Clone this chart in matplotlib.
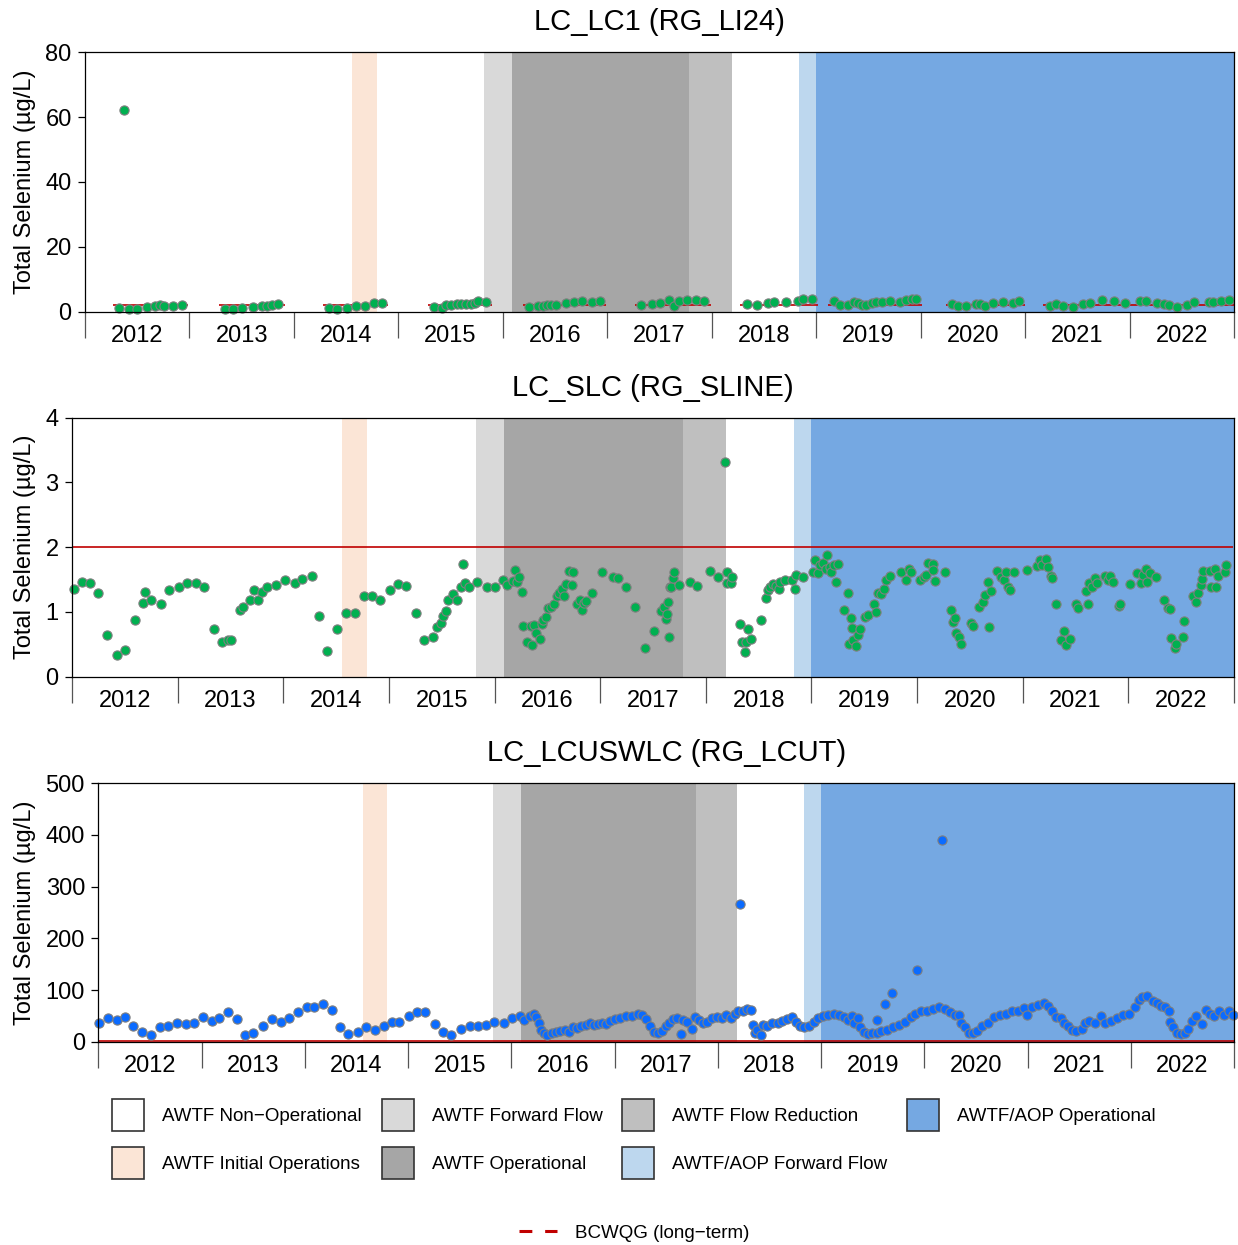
import numpy as np
import matplotlib
matplotlib.use("Agg")
import matplotlib.pyplot as plt
from matplotlib.patches import Patch
from matplotlib.lines import Line2D
from matplotlib.transforms import offset_copy

plt.rcParams['font.family'] = ['Liberation Sans', 'DejaVu Sans']

# ---------------- data ----------------
years = list(range(2012, 2023))
year_labels = [str(y) for y in years]

phase_labels = ["AWTF Non\u2212Operational", "AWTF Initial Operations",
                "AWTF Forward Flow", "AWTF Operational",
                "AWTF Flow Reduction", "AWTF/AOP Forward Flow",
                "AWTF/AOP Operational"]
phase_colors = ["#FFFFFF", "#FBE5D6", "#D9D9D9", "#A6A6A6",
                "#BFBFBF", "#BDD7EE", "#75A8E2"]
# shaded periods (decimal year start, end, phase index)
phase_start = [2014.56, 2015.82, 2016.09, 2017.785, 2018.833, 2019.0]
phase_end = [2014.795, 2016.09, 2017.785, 2018.19, 2019.0, 2023.0]
phase_index = [1, 2, 3, 4, 5, 6]

guideline = 2.0  # BCWQG long-term, ug/L

lc1_year = [2012.329, 2012.370, 2012.425, 2012.495, 2012.591, 2012.670, 2012.718, 2012.757, 2012.846, 2012.926,
            2013.341, 2013.421, 2013.501, 2013.612, 2013.692, 2013.740, 2013.788, 2013.852,
            2014.340, 2014.417, 2014.507, 2014.596, 2014.682, 2014.762, 2014.842,
            2015.341, 2015.417, 2015.454, 2015.504, 2015.560, 2015.598, 2015.647, 2015.692, 2015.731, 2015.761, 2015.837,
            2016.253, 2016.337, 2016.382, 2016.424, 2016.462, 2016.508, 2016.602, 2016.678, 2016.754, 2016.856, 2016.931,
            2017.326, 2017.428, 2017.504, 2017.587, 2017.637, 2017.686, 2017.762, 2017.853, 2017.929,
            2018.335, 2018.434, 2018.537, 2018.597, 2018.711, 2018.825, 2018.878, 2018.958,
            2019.175, 2019.231, 2019.306, 2019.364, 2019.401, 2019.440, 2019.477, 2019.534, 2019.573, 2019.629,
            2019.705, 2019.800, 2019.857, 2019.914, 2019.952,
            2020.305, 2020.358, 2020.434, 2020.533, 2020.571, 2020.616, 2020.692, 2020.786, 2020.881, 2020.939,
            2021.235, 2021.295, 2021.359, 2021.455, 2021.550, 2021.626, 2021.740, 2021.853, 2021.956,
            2022.096, 2022.153, 2022.267, 2022.332, 2022.380, 2022.456, 2022.552, 2022.620, 2022.761, 2022.798,
            2022.874, 2022.950]
lc1_se = [1.03, 62.2, 0.72, 0.72, 1.34, 1.85, 2.06, 1.85, 1.64, 2.16,
          0.72, 0.92, 1.13, 1.54, 1.75, 1.85, 1.95, 2.26,
          1.23, 0.92, 1.13, 1.75, 1.64, 2.57, 2.67,
          1.34, 1.13, 1.95, 2.16, 2.36, 2.36, 2.47, 2.36, 2.67, 3.19, 2.98,
          1.54, 1.75, 1.85, 2.06, 2.06, 2.06, 2.77, 2.98, 3.29, 2.88, 3.29,
          2.06, 2.36, 2.57, 3.60, 1.75, 3.29, 3.49, 3.60, 3.29,
          2.36, 1.95, 2.77, 2.98, 3.08, 3.39, 4.01, 3.80,
          3.29, 2.06, 2.06, 2.88, 2.57, 1.95, 2.06, 2.57, 2.88, 2.98,
          3.29, 3.08, 3.60, 3.80, 3.80,
          2.36, 1.85, 1.85, 2.26, 2.36, 1.75, 2.77, 3.08, 2.77, 3.29,
          1.85, 2.36, 1.75, 1.54, 2.36, 2.77, 3.49, 3.19, 2.57,
          3.19, 3.19, 2.57, 2.36, 1.95, 1.54, 1.95, 2.98, 2.98, 2.98,
          3.19, 3.49]

slc_year = [2012.019, 2012.091, 2012.170, 2012.249, 2012.328, 2012.423, 2012.502, 2012.596, 2012.669, 2012.694,
            2012.748, 2012.842, 2012.921, 2013.016, 2013.091, 2013.170, 2013.246, 2013.344, 2013.416, 2013.479,
            2013.502, 2013.590, 2013.615, 2013.685, 2013.722, 2013.763, 2013.795, 2013.842, 2013.931, 2014.016,
            2014.110, 2014.174, 2014.268, 2014.341, 2014.416, 2014.511, 2014.593, 2014.681, 2014.763, 2014.836,
            2014.915, 2015.009, 2015.088, 2015.161, 2015.255, 2015.334, 2015.413, 2015.451, 2015.489, 2015.508,
            2015.539, 2015.561, 2015.602, 2015.640, 2015.681, 2015.703, 2015.719, 2015.760, 2015.836, 2015.930,
            2016.006, 2016.076, 2016.120, 2016.171, 2016.192, 2016.214, 2016.233, 2016.256, 2016.271, 2016.303,
            2016.341, 2016.350, 2016.372, 2016.391, 2016.429, 2016.445, 2016.460, 2016.483, 2016.507, 2016.539,
            2016.561, 2016.587, 2016.609, 2016.634, 2016.656, 2016.675, 2016.706, 2016.731, 2016.738, 2016.776,
            2016.807, 2016.829, 2016.845, 2016.870, 2016.924, 2017.019, 2017.117, 2017.170, 2017.249, 2017.328,
            2017.429, 2017.508, 2017.580, 2017.602, 2017.627, 2017.633, 2017.643, 2017.652, 2017.659, 2017.675,
            2017.690, 2017.695, 2017.747, 2017.848, 2017.921, 2018.044, 2018.116, 2018.180, 2018.196, 2018.200,
            2018.236, 2018.252, 2018.322, 2018.347, 2018.369, 2018.385, 2018.404, 2018.423, 2018.520, 2018.574,
            2018.589, 2018.612, 2018.637, 2018.669, 2018.694, 2018.700, 2018.747, 2018.820, 2018.842, 2018.858,
            2018.921, 2019.015, 2019.031, 2019.063, 2019.085, 2019.110, 2019.142, 2019.148, 2019.173, 2019.189,
            2019.214, 2019.230, 2019.252, 2019.306, 2019.347, 2019.356, 2019.379, 2019.384, 2019.394, 2019.420,
            2019.442, 2019.461, 2019.511, 2019.536, 2019.590, 2019.609, 2019.631, 2019.663, 2019.685, 2019.701,
            2019.748, 2019.852, 2019.893, 2019.925, 2019.938, 2020.032, 2020.064, 2020.089, 2020.105, 2020.146,
            2020.152, 2020.168, 2020.263, 2020.320, 2020.341, 2020.357, 2020.373, 2020.398, 2020.417, 2020.506,
            2020.531, 2020.588, 2020.626, 2020.645, 2020.667, 2020.682, 2020.704, 2020.758, 2020.799, 2020.821,
            2020.840, 2020.862, 2020.878, 2020.916, 2021.045, 2021.136, 2021.162, 2021.187, 2021.225, 2021.240,
            2021.272, 2021.281, 2021.312, 2021.366, 2021.391, 2021.413, 2021.451, 2021.501, 2021.526, 2021.602,
            2021.618, 2021.627, 2021.659, 2021.681, 2021.703, 2021.776, 2021.807, 2021.830, 2021.855, 2021.912,
            2021.925, 2022.013, 2022.082, 2022.124, 2022.139, 2022.165, 2022.177, 2022.203, 2022.259, 2022.335,
            2022.376, 2022.392, 2022.408, 2022.439, 2022.455, 2022.518, 2022.525, 2022.613, 2022.638, 2022.660,
            2022.683, 2022.697, 2022.707, 2022.776, 2022.786, 2022.817, 2022.827, 2022.848, 2022.911, 2022.927]
slc_se = [1.36, 1.47, 1.45, 1.30, 0.65, 0.34, 0.42, 0.87, 1.14, 1.31,
          1.18, 1.13, 1.34, 1.39, 1.45, 1.45, 1.38, 0.74, 0.53, 0.56,
          0.56, 1.03, 1.07, 1.19, 1.34, 1.19, 1.31, 1.38, 1.41, 1.49,
          1.45, 1.51, 1.56, 0.94, 0.40, 0.73, 0.98, 0.98, 1.25, 1.24,
          1.19, 1.34, 1.43, 1.40, 0.98, 0.57, 0.62, 0.77, 0.83, 0.94,
          1.02, 1.18, 1.28, 1.19, 1.38, 1.74, 1.44, 1.39, 1.47, 1.39,
          1.38, 1.49, 1.42, 1.48, 1.65, 1.47, 1.54, 1.31, 0.78, 0.54,
          0.78, 0.49, 0.80, 0.67, 0.58, 0.81, 0.88, 0.92, 1.06, 1.08,
          1.12, 1.24, 1.30, 1.36, 1.25, 1.43, 1.64, 1.41, 1.61, 1.13,
          1.18, 1.03, 1.14, 1.17, 1.29, 1.62, 1.54, 1.52, 1.39, 1.07,
          0.45, 0.70, 1.02, 1.07, 0.89, 0.97, 1.16, 0.62, 1.39, 1.38,
          1.52, 1.62, 1.42, 1.46, 1.40, 1.64, 1.54, 3.31, 1.61, 1.45,
          1.44, 1.54, 0.81, 0.54, 0.38, 0.53, 0.74, 0.58, 0.88, 1.21,
          1.34, 1.39, 1.43, 1.40, 1.35, 1.47, 1.49, 1.50, 1.35, 1.57,
          1.54, 1.61, 1.80, 1.60, 1.73, 1.75, 1.67, 1.88, 1.70, 1.61,
          1.73, 1.46, 1.74, 1.03, 1.29, 0.50, 0.90, 0.75, 0.57, 0.48,
          0.64, 0.73, 0.92, 0.96, 1.13, 1.00, 1.30, 1.28, 1.36, 1.50,
          1.56, 1.61, 1.49, 1.66, 1.61, 1.49, 1.54, 1.57, 1.75, 1.74,
          1.65, 1.48, 1.62, 1.03, 0.85, 0.90, 0.68, 0.61, 0.50, 0.83,
          0.79, 1.07, 1.15, 1.26, 1.47, 0.77, 1.32, 1.63, 1.54, 1.50,
          1.62, 1.39, 1.34, 1.61, 1.65, 1.71, 1.81, 1.73, 1.82, 1.70,
          1.56, 1.52, 1.13, 0.57, 0.71, 0.49, 0.58, 1.12, 1.06, 1.33,
          1.13, 1.45, 1.38, 1.53, 1.45, 1.56, 1.50, 1.56, 1.47, 1.09,
          1.13, 1.43, 1.60, 1.44, 1.57, 1.66, 1.47, 1.60, 1.54, 1.19,
          1.06, 1.05, 0.60, 0.45, 0.50, 0.61, 0.86, 1.25, 1.16, 1.30,
          1.42, 1.51, 1.63, 1.64, 1.38, 1.66, 1.39, 1.56, 1.62, 1.73]

lcut_year = [2012.006, 2012.097, 2012.178, 2012.258, 2012.333, 2012.426, 2012.507, 2012.600, 2012.678, 2012.759,
             2012.849, 2012.927, 2013.017, 2013.098, 2013.172, 2013.256, 2013.346, 2013.421, 2013.501, 2013.598,
             2013.685, 2013.766, 2013.847, 2013.937, 2014.018, 2014.092, 2014.173, 2014.263, 2014.341, 2014.421,
             2014.512, 2014.592, 2014.680, 2014.767, 2014.841, 2014.915, 2015.012, 2015.088, 2015.165, 2015.261,
             2015.337, 2015.414, 2015.509, 2015.605, 2015.681, 2015.758, 2015.835, 2015.931, 2016.007, 2016.084,
             2016.122, 2016.180, 2016.218, 2016.237, 2016.264, 2016.287, 2016.314, 2016.350, 2016.390, 2016.430,
             2016.470, 2016.520, 2016.560, 2016.600, 2016.640, 2016.680, 2016.720, 2016.760, 2016.800, 2016.840,
             2016.880, 2016.920, 2016.960, 2017.000, 2017.052, 2017.111, 2017.168, 2017.225, 2017.264, 2017.303,
             2017.341, 2017.379, 2017.417, 2017.456, 2017.494, 2017.532, 2017.571, 2017.609, 2017.647, 2017.667,
             2017.705, 2017.755, 2017.782, 2017.820, 2017.859, 2017.898, 2017.943, 2017.992, 2018.042, 2018.081,
             2018.127, 2018.165, 2018.197, 2018.214, 2018.242, 2018.281, 2018.319, 2018.338, 2018.357, 2018.377,
             2018.415, 2018.442, 2018.480, 2018.530, 2018.580, 2018.626, 2018.672, 2018.722, 2018.760, 2018.799,
             2018.837, 2018.887, 2018.933, 2018.971, 2019.018, 2019.067, 2019.125, 2019.171, 2019.220, 2019.259,
             2019.298, 2019.317, 2019.355, 2019.374, 2019.413, 2019.451, 2019.490, 2019.539, 2019.547, 2019.585,
             2019.623, 2019.643, 2019.685, 2019.701, 2019.758, 2019.816, 2019.873, 2019.912, 2019.930, 2019.969,
             2020.026, 2020.084, 2020.141, 2020.169, 2020.199, 2020.245, 2020.295, 2020.333, 2020.360, 2020.399,
             2020.430, 2020.468, 2020.506, 2020.564, 2020.621, 2020.679, 2020.736, 2020.794, 2020.851, 2020.909,
             2020.966, 2020.997, 2021.043, 2021.101, 2021.158, 2021.197, 2021.235, 2021.273, 2021.320, 2021.358,
             2021.397, 2021.435, 2021.473, 2021.523, 2021.561, 2021.600, 2021.657, 2021.715, 2021.753, 2021.811,
             2021.868, 2021.926, 2021.984, 2022.041, 2022.079, 2022.110, 2022.156, 2022.214, 2022.252, 2022.290,
             2022.329, 2022.367, 2022.380, 2022.405, 2022.444, 2022.482, 2022.521, 2022.559, 2022.598, 2022.636,
             2022.686, 2022.724, 2022.770, 2022.809, 2022.854, 2022.904, 2022.954, 2022.990]
lcut_se = [36, 46, 42, 49, 30, 19, 14, 28, 31, 37,
           34, 37, 48, 41, 46, 57, 44, 14, 18, 31,
           44, 39, 47, 57, 67, 67, 73, 62, 28, 15,
           20, 28, 23, 30, 39, 39, 50, 57, 57, 35,
           19, 14, 26, 31, 30, 32, 39, 37, 46, 50,
           42, 51, 55, 49, 37, 23, 17, 14, 18, 20,
           22, 24, 20, 28, 27, 30, 32, 36, 33, 34,
           37, 35, 40, 44, 46, 50, 50, 54, 52, 44,
           30, 20, 17, 22, 30, 37, 44, 46, 15, 42,
           39, 26, 48, 42, 36, 39, 46, 49, 46, 52,
           46, 55, 60, 266, 60, 63, 62, 33, 17, 23,
           14, 33, 30, 36, 37, 41, 44, 48, 39, 31,
           28, 31, 39, 46, 50, 52, 54, 52, 49, 42,
           50, 36, 46, 28, 20, 15, 17, 18, 42, 22,
           73, 24, 94, 28, 33, 39, 49, 55, 139, 60,
           60, 63, 67, 390, 63, 57, 52, 52, 36, 28,
           17, 17, 22, 30, 37, 48, 52, 55, 59, 60,
           65, 52, 68, 71, 75, 70, 59, 48, 46, 37,
           30, 23, 22, 26, 36, 41, 36, 50, 36, 41,
           46, 52, 55, 68, 81, 86, 88, 80, 75, 70,
           67, 60, 39, 28, 18, 15, 17, 26, 41, 50,
           35, 62, 55, 50, 59, 52, 59, 52]

panels = [
    dict(title="LC_LC1 (RG_LI24)", x=lc1_year, y=lc1_se, color="#00B050",
         ylim=(0, 80), yticks=[0, 20, 40, 60, 80], box=(85, 52.3, 1234, 311.7)),
    dict(title="LC_SLC (RG_SLINE)", x=slc_year, y=slc_se, color="#00B050",
         ylim=(0, 4), yticks=[0, 1, 2, 3, 4], box=(72, 417.7, 1234, 676.7)),
    dict(title="LC_LCUSWLC (RG_LCUT)", x=lcut_year, y=lcut_se, color="#0B6BFF",
         ylim=(0, 500), yticks=[0, 100, 200, 300, 400, 500], box=(98.3, 783, 1234, 1042)),
]

# ---------------- figure ----------------
W, H = 1238, 1245
fig = plt.figure(figsize=(W / 100, H / 100), dpi=100)
line_color = "#C00000"


def guideline_segments(xs, gap=0.18, ext=0.06):
    xs = np.sort(np.asarray(xs))
    segs = []
    start = xs[0]
    prev = xs[0]
    for v in xs[1:]:
        if v - prev > gap:
            segs.append((start - ext, prev + ext))
            start = v
        prev = v
    segs.append((start - ext, prev + ext))
    return segs


for p in panels:
    l, t, r, b = p["box"]
    ax = fig.add_axes([l / W, 1 - b / H, (r - l) / W, (b - t) / H])
    ax.set_xlim(2012, 2023)
    ax.set_ylim(*p["ylim"])
    for s, e, k in zip(phase_start, phase_end, phase_index):
        ax.axvspan(s, e, color=phase_colors[k], lw=0, zorder=0)
    for s, e in guideline_segments(p["x"]):
        ax.plot([max(s, 2012), min(e, 2023)], [guideline, guideline],
                color=line_color, lw=1.2, zorder=2, solid_capstyle='butt')
    ax.scatter(p["x"], p["y"], s=44, c=p["color"], edgecolors="#7F7F7F",
               linewidths=0.8, zorder=3, clip_on=False)
    ax.set_xticks(np.arange(2012, 2024))
    ax.set_xticklabels([])
    ax.tick_params(axis='x', length=18.5, width=0.9, color="#555555", direction='out')
    ax.set_yticks(p["yticks"])
    ax.tick_params(axis='y', length=5.3, width=0.9, labelsize=17, pad=4.3)
    trans = offset_copy(ax.get_xaxis_transform(), fig=fig, y=-30, units='dots')
    for yr, lab in zip(years, year_labels):
        ax.text(yr + 0.5, 0, lab, transform=trans, ha='center', va='baseline', fontsize=17)
    ax.text(0.5, 1 + 30 / (b - t), p["title"], transform=ax.transAxes,
            ha='center', va='center', fontsize=21)
    fig.text(25 / W, 1 - (t + b) / 2 / H, "Total Selenium (\u00b5g/L)", rotation=90,
             ha='center', va='center', fontsize=17)
    for sp in ax.spines.values():
        sp.set_linewidth(0.9)
        sp.set_zorder(5)

# ---------------- legends ----------------
order = [0, 1, 2, 3, 4, 5, 6]
handles = [Patch(facecolor=phase_colors[i], edgecolor="#333333", linewidth=1.2) for i in order]
labels = [phase_labels[i] for i in order]
fig.legend(handles, labels, loc='center', bbox_to_anchor=(634 / W, 1 - 1139 / H),
           ncol=4, frameon=False, fontsize=13.5, handlelength=1.71, handleheight=2.25,
           handletextpad=0.96, columnspacing=1.05, labelspacing=0.82, borderpad=0)

fig.legend([Line2D([0], [0], color=line_color, lw=2.2, ls=(0, (4.2, 4.2)))],
           ["BCWQG (long\u2212term)"], loc='center', bbox_to_anchor=(634 / W, 1 - 1233 / H),
           frameon=False, fontsize=13.5, handlelength=2.06, handletextpad=0.96, borderpad=0)

fig.savefig("out.png", dpi=100)
